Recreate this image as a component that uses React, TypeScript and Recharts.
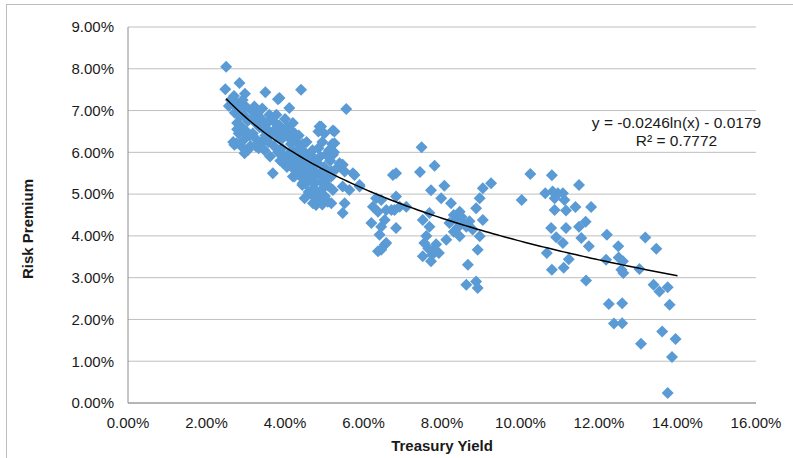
import React from 'react';
import { ScatterChart, Scatter, XAxis, YAxis, CartesianGrid, Label } from 'recharts';

// Treasury yield (%) and matching risk premium (%) per observation
const treasuryYield = [
  // upper-left outliers and edges of the main cluster
  2.50, 2.48, 2.84, 3.50, 3.82, 4.41, 4.11, 5.56, 2.57, 2.76, 2.97, 3.69, 4.50, 4.88, 5.26, 5.47, 5.09, 4.71, 4.20, 4.44,
  5.39, 5.73, 5.90, 3.86, 4.92, 5.22, 5.47, 5.77, 4.79, 6.75, 4.45, 2.71, 4.24,
  // dense 2.6% - 3.0% band
  2.62, 2.70, 2.75, 2.80, 2.72, 2.85, 2.78, 2.90, 2.82, 2.95, 2.68, 2.88, 3.00, 2.95, 3.05, 2.92, 3.02, 3.10, 2.98,
  // 3.0% - 3.6%
  3.15, 3.20, 3.25, 3.30, 3.35, 3.40, 3.18, 3.28, 3.45, 3.50, 3.38, 3.55, 3.22, 3.42, 3.60, 3.48, 3.58, 3.62, 3.33, 3.12,
  // 3.6% - 4.2%
  3.70, 3.75, 3.80, 3.85, 3.90, 3.95, 3.72, 3.82, 3.92, 4.00, 4.05, 4.10, 4.15, 3.98, 4.08, 4.18, 3.88, 4.12, 4.02, 3.78, 4.20, 4.25,
  // 4.2% - 4.8%
  4.28, 4.32, 4.35, 4.40, 4.45, 4.50, 4.30, 4.38, 4.48, 4.55, 4.60, 4.42, 4.52, 4.58, 4.65, 4.70, 4.62, 4.75, 4.35, 4.22, 4.68, 4.72, 4.78, 4.55,
  // 4.8% - 5.3%
  4.82, 4.85, 4.90, 4.95, 4.88, 4.92, 5.00, 5.05, 4.98, 5.02, 5.08, 5.12, 5.15, 5.20, 5.10, 5.18, 4.85, 4.95, 5.25, 5.00, 4.85, 5.22,
  // extra fill inside the main cluster
  3.05, 3.25, 3.45, 3.65, 3.95, 4.05, 4.25, 4.60, 4.75, 4.82, 4.90, 5.05, 4.95, 4.65, 4.35, 4.15, 3.55, 3.30, 2.85, 2.78, 4.45, 4.70,
  5.10, 5.30,
  // 5.2% - 7.1%
  5.46, 5.52, 5.90, 5.47, 5.64, 5.52, 6.83, 6.83, 6.32, 6.24, 6.37, 6.71, 6.20, 6.45, 6.83, 6.41, 6.54, 6.37, 7.09, 5.18, 5.18, 5.22, 5.26,
  6.45, 6.58, 6.54, 6.79, 6.92, 6.58, 6.45,
  // 7.4% - 9.3%
  7.48, 7.81, 7.44, 7.72, 8.06, 9.25, 9.04, 8.96, 7.98, 8.23, 8.45, 8.87, 9.04, 7.68, 7.51, 7.68, 8.19, 8.62, 8.78, 8.96, 8.11, 8.45,
  7.55, 7.81, 7.51, 7.72, 7.92, 8.91, 8.66, 8.62, 8.87, 8.91,
  8.30, 8.35, 8.50, 8.55, 8.40, 8.70, 8.30, 7.60, 7.65, 7.75, 7.85,
  // 10% - 14%
  10.25, 10.80, 11.49, 10.03, 10.63, 10.82, 10.95, 11.08, 10.87, 11.12, 10.87, 11.16, 11.40, 11.80, 11.66, 11.49, 10.78, 11.16,
  10.91, 11.08, 11.55, 11.74, 10.67, 11.23, 10.80, 11.10, 11.67, 12.20, 12.49, 12.18, 12.50, 12.61, 12.57, 12.62, 13.03, 13.18,
  13.46, 13.39, 13.54, 13.75, 13.80, 12.25, 12.59, 12.38, 12.59, 13.61, 13.95, 13.07, 13.86, 13.75,
];

const riskPremium = [
  8.05, 7.51, 7.66, 7.44, 7.27, 7.50, 7.06, 7.04, 7.11, 6.22, 5.98, 5.50, 4.90, 6.62, 6.50, 4.55, 4.82, 4.78, 5.42, 5.22,
  5.74, 5.50, 5.18, 7.30, 6.62, 6.52, 5.70, 5.46, 4.74, 5.46, 5.26, 6.18, 5.42,
  7.25, 7.35, 7.20, 7.05, 6.95, 6.85, 6.70, 6.60, 6.45, 6.30, 6.25, 6.15, 7.10, 6.90, 6.75, 7.25, 6.50, 6.40, 7.40,
  7.00, 6.85, 6.70, 6.95, 6.60, 6.80, 6.45, 6.30, 6.55, 6.40, 6.20, 6.70, 7.10, 7.05, 6.90, 6.05, 6.25, 5.90, 6.10, 6.15,
  6.75, 6.55, 6.40, 6.65, 6.30, 6.50, 6.15, 6.00, 6.10, 6.80, 6.60, 6.35, 6.20, 5.90, 5.95, 6.05, 5.80, 6.55, 6.40, 6.90, 6.70, 6.45,
  6.25, 6.05, 5.90, 6.15, 5.80, 6.00, 5.70, 5.55, 5.65, 5.85, 5.70, 5.40, 5.25, 5.50, 5.95, 5.60, 5.35, 5.80, 6.40, 5.60, 5.10, 4.95, 5.45, 6.25,
  5.75, 6.10, 5.90, 6.25, 5.50, 5.30, 5.65, 5.95, 5.15, 4.95, 5.40, 6.05, 5.80, 6.20, 5.20, 5.55, 4.85, 4.75, 6.00, 6.45, 6.50, 5.10,
  6.05, 6.15, 6.30, 6.45, 5.75, 5.65, 5.85, 5.05, 5.25, 5.05, 4.95, 5.35, 5.55, 5.45, 5.70, 5.80, 6.55, 6.75, 7.10, 6.55, 6.20, 6.05,
  5.90, 5.60,
  5.70, 5.54, 5.22, 5.18, 5.10, 4.78, 5.50, 4.94, 4.90, 4.70, 4.58, 4.62, 4.31, 4.22, 4.19, 4.03, 3.79, 3.63, 4.70, 4.78, 5.42, 5.94, 6.22,
  4.86, 4.62, 4.38, 4.62, 4.70, 3.83, 3.67,
  6.12, 5.68, 5.53, 5.09, 5.20, 5.26, 5.14, 4.90, 4.90, 4.78, 4.58, 4.66, 4.38, 4.55, 4.38, 4.22, 4.31, 4.22, 4.15, 3.99, 3.91, 3.99,
  3.83, 3.67, 3.51, 3.39, 3.59, 3.67, 3.31, 2.83, 2.91, 2.75,
  4.50, 4.40, 4.45, 4.30, 4.20, 4.35, 4.10, 4.00, 3.70, 3.55, 3.80,
  5.48, 5.45, 5.22, 4.86, 5.02, 5.06, 5.02, 5.02, 4.90, 4.86, 4.62, 4.61, 4.69, 4.69, 4.34, 4.22, 4.19, 4.19,
  3.97, 3.83, 3.95, 3.75, 3.59, 3.44, 3.19, 3.24, 2.93, 4.03, 3.75, 3.43, 3.48, 3.39, 3.19, 3.11, 3.21, 3.96,
  3.69, 2.83, 2.67, 2.77, 2.35, 2.37, 2.39, 1.90, 1.91, 1.71, 1.53, 1.42, 1.10, 0.24,
];

const xTicks = [0, 2, 4, 6, 8, 10, 12, 14, 16];
const yTicks = [0, 1, 2, 3, 4, 5, 6, 7, 8, 9];

// Logarithmic trendline coefficients: y = a·ln(x) + b (x, y as fractions)
const trendA = -0.0246;
const trendB = -0.0179;
const trendR2 = 0.7772;
const trendFrom = 2.5;
const trendTo = 14;

const observations = treasuryYield.map((x, i) => ({ x, y: riskPremium[i] }));

const trendPoints: { x: number; y: number }[] = [];
for (let x = trendFrom; x <= trendTo + 1e-9; x += 0.1) {
  trendPoints.push({ x, y: (trendA * Math.log(x / 100) + trendB) * 100 });
}

const FONT = '"Liberation Sans", Arial, sans-serif';
const TEXT = '#1a1a1a';
const pct = (v: number) => `${v.toFixed(2)}%`;

const Diamond = (props: any) => {
  const { cx, cy } = props;
  if (cx == null || cy == null) return <g />;
  const r = 6;
  return (
    <path
      d={`M${cx},${cy - r}L${cx + r},${cy}L${cx},${cy + r}L${cx - r},${cy}Z`}
      fill="#5B9BD5"
    />
  );
};

const NoDot = () => <g />;

export default function App() {
  return (
    <div style={{ position: 'absolute', left: 0, top: 0, width: 793, height: 458, overflow: 'hidden', background: '#fff' }}>
      <div
        style={{
          position: 'absolute',
          left: 6,
          top: 4,
          width: 787,
          height: 454,
          borderLeft: '1px solid #bdbdbd',
          borderTop: '1px solid #bdbdbd',
          boxSizing: 'border-box',
        }}
      />
      <div style={{ position: 'absolute', left: 0, top: 0 }}>
        <ScatterChart width={793} height={458} margin={{ top: 27, right: 37, bottom: 25, left: 0 }}>
          <CartesianGrid vertical={false} stroke="#bfbfbf" strokeWidth={1} />
          <XAxis
            type="number"
            dataKey="x"
            domain={[0, 16]}
            ticks={xTicks}
            tickFormatter={pct}
            height={30}
            tickSize={0}
            tickMargin={14}
            axisLine={{ stroke: '#8c8c8c', strokeWidth: 1 }}
            tickLine={false}
            tick={{ fontFamily: FONT, fontSize: 15, fill: TEXT }}
            allowDataOverflow
          >
            <Label
              value="Treasury Yield"
              position="bottom"
              offset={7}
              style={{ fontFamily: FONT, fontSize: 15, fontWeight: 'bold', fill: TEXT }}
            />
          </XAxis>
          <YAxis
            type="number"
            dataKey="y"
            domain={[0, 9]}
            ticks={yTicks}
            tickFormatter={pct}
            width={128}
            tickSize={0}
            tickMargin={14}
            axisLine={{ stroke: '#8c8c8c', strokeWidth: 1 }}
            tickLine={false}
            tick={{ fontFamily: FONT, fontSize: 15, fill: TEXT }}
            allowDataOverflow
          >
            <Label
              content={() => (
                <text
                  x={33}
                  y={229}
                  transform="rotate(-90 33 229)"
                  textAnchor="middle"
                  style={{ fontFamily: FONT, fontSize: 15, fontWeight: 'bold', fill: TEXT }}
                >
                  Risk Premium
                </text>
              )}
            />
          </YAxis>
          <Scatter data={observations} shape={<Diamond />} isAnimationActive={false} />
          <Scatter
            data={trendPoints}
            shape={<NoDot />}
            line={{ stroke: '#000', strokeWidth: 1.5 }}
            lineType="joint"
            isAnimationActive={false}
          />
          <g>
            <text x={676.5} y={127.7} textAnchor="middle" style={{ fontFamily: FONT, fontSize: 15.5, fill: TEXT }}>
              {`y = ${trendA}ln(x) - ${Math.abs(trendB)}`}
            </text>
            <text x={676.5} y={145.5} textAnchor="middle" style={{ fontFamily: FONT, fontSize: 15.5, fill: TEXT }}>
              {`R² = ${trendR2}`}
            </text>
          </g>
        </ScatterChart>
      </div>
    </div>
  );
}
